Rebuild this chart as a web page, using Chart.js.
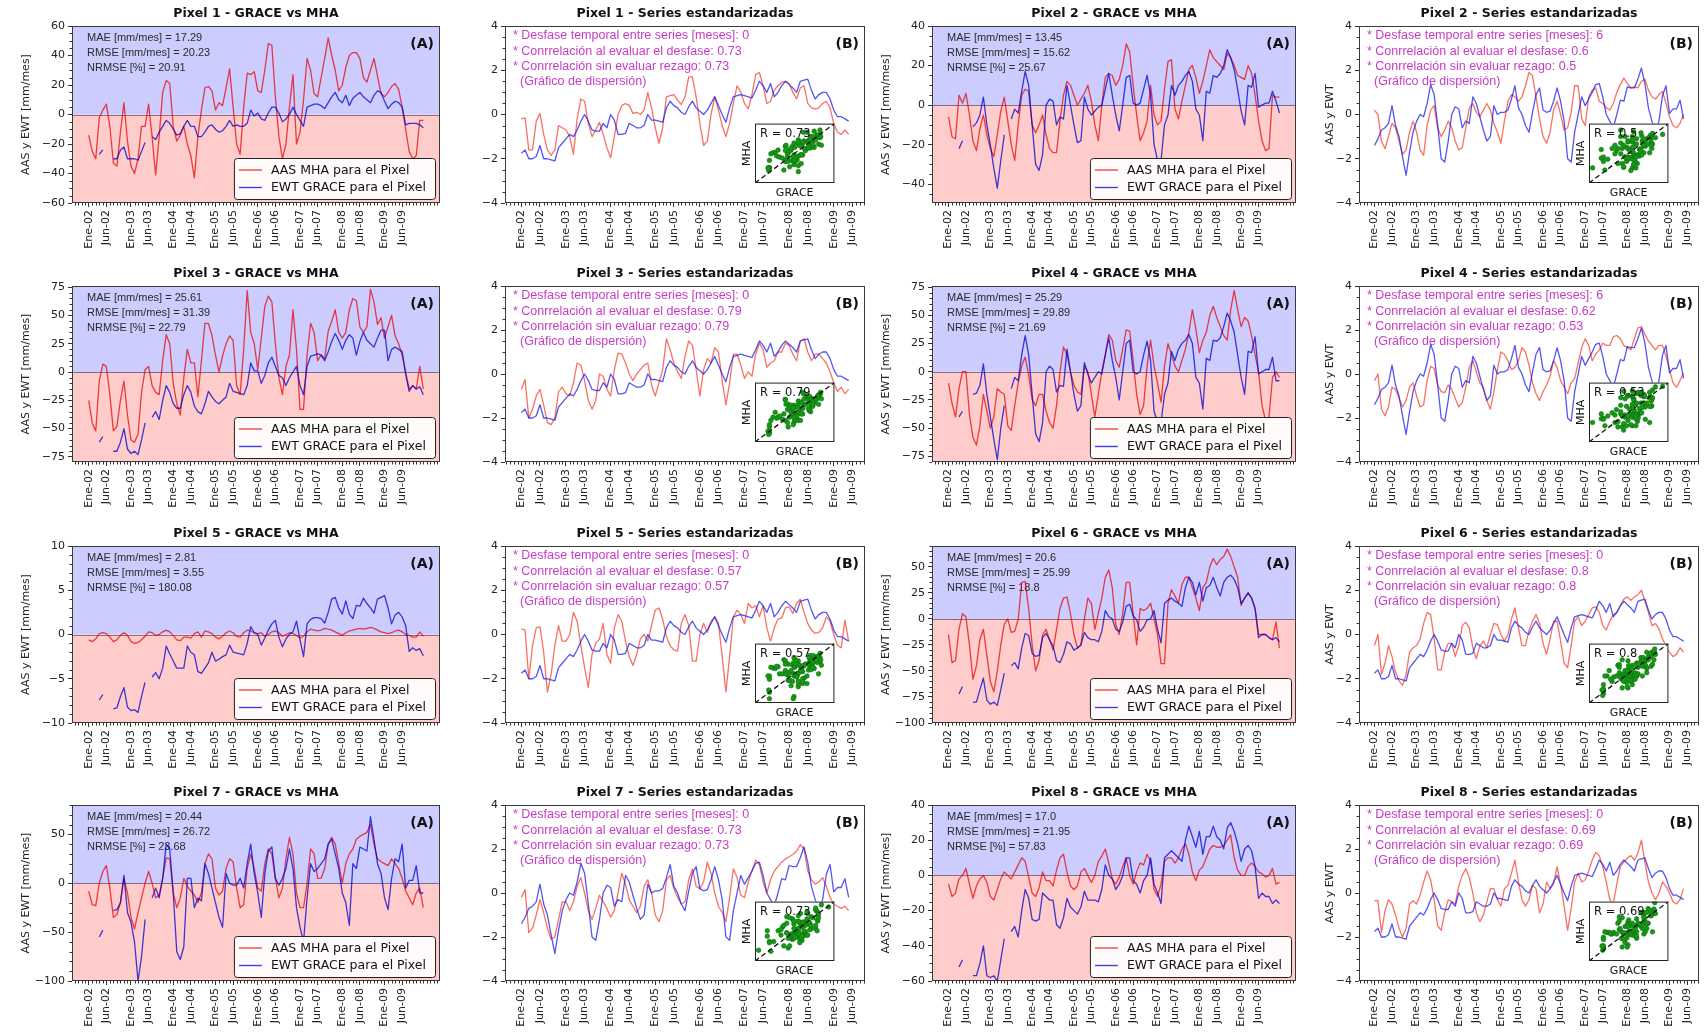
<!DOCTYPE html>
<html>
<head>
<meta charset="utf-8">
<script src="https://cdn.jsdelivr.net/npm/chart.js@4.4.1/dist/chart.umd.min.js"></script>
<style>
  html, body { margin: 0; padding: 0; background: #ffffff; }
  #fig { position: relative; width: 1705px; height: 1034px; overflow: hidden; background: #ffffff; }
  #fig canvas { position: absolute; }
</style>
</head>
<body>
<div id="fig"></div>
<script>
// ---------- time axis (month index 0 = Ene-02) ----------
const TICK_MONTHS = [0, 5, 12, 17, 24, 29, 36, 41, 48, 53, 60, 65, 72, 77, 84, 89];
const TICK_LABELS = ['Ene-02','Jun-02','Ene-03','Jun-03','Ene-04','Jun-04','Ene-05','Jun-05',
                     'Ene-06','Jun-06','Ene-07','Jun-07','Ene-08','Jun-08','Ene-09','Jun-09'];

// ---------- (A) monthly anomalies [mm/mes] ----------
const P1_AAS = [-14,-25,-30,-2,3,7,-8,-33,-35,-12, 8,-18,-35,-40,-30,-8,-8,7,-15,-41, -15,15,23,21,-8,-18,-14,-8,-20,-28,
  -43,-15,3,18,19,16,3,8,6,18, 31,5,-20,-27,5,28,27,29,16,15, 30,48,47,12,-15,-30,-20,5,27,-20, -12,10,38,30,14,12,25,38,52,40,
  30,16,20,32,40,42,42,38,25,22, 30,38,26,14,12,15,19,21,17,5, -10,-25,-30,-28,-4,-4];
const P1_EWT = [null,null,null,-27,-24,null,null,-30,-30,-24, -22,-30,-30,-30,-31,-25,-19,null,-15,-17, -12,-8,-4,-6,-10,-14,-13,-8,-4,-8,
  -8,-15,-15,-12,-8,-7,-10,-12,-11,-8, -4,-8,-7,-8,-8,-6,3,-1,1,-3, -4,1,5,5,1,-5,-3,0,5,0, -4,-8,5,6,7,7,6,4,8,12,
  15,10,8,13,6,11,13,15,12,10, 8,13,16,15,9,4,7,9,8,5, -7,-6,-6,-6,-7,-9];

const P2_AAS = [-6,-16,-17,5,1,6,-5,-18,-23,-12, -5,-15,-22,-26,-15,-3,4,-8,-20,-28, -10,5,8,7,-10,-14,-10,-5,-15,-22,
  -24,-24,-8,5,12,10,5,0,3,6, 10,2,-10,-18,0,14,16,15,10,13, 20,31,27,10,-5,-18,-14,-8,10,-5, -10,-8,8,22,23,-2,-7,2,10,18,
  20,14,6,12,20,28,24,22,20,18, 26,24,20,15,14,13,20,16,5,-8, -18,-23,-22,5,4,4];
const P2_EWT = [null,null,null,-22,-18,null,null,-11,-9,-5, 4,-10,-20,-32,-42,-28,-15,null,-7,-2, -4,7,17,10,-10,-30,-33,-25,0,3,
  2,-10,-6,-7,10,0,-10,-19,-18,4, -2,-5,-3,-1,0,8,16,5,-5,-13, 0,14,15,1,0,1,8,15,5,-20, -28,-28,-10,-5,10,5,10,12,15,17,
  12,-2,-5,-18,7,6,15,14,16,20, 28,24,18,8,-3,-10,10,9,16,-1, 0,1,1,7,2,-4];

const P3_AAS = [-25,-45,-52,-8,7,5,-20,-52,-48,-25, -8,-38,-60,-62,-55,-18,2,5,-12,-18, -20,10,33,25,-10,-28,-38,-5,20,8,
  8,-22,10,43,43,32,15,0,14,25, 32,28,-12,-20,20,72,35,25,2,30, 58,67,62,25,-5,-20,5,15,55,20, -33,-33,15,43,35,10,15,12,36,45,
  55,35,30,35,55,65,63,40,35,40, 73,62,42,48,30,40,50,32,25,15, 0,-15,-12,-15,5,-15];
const P3_EWT = [null,null,null,-62,-57,null,null,-70,-70,-62, -50,-68,-72,-70,-73,-60,-45,null,-40,-35, -42,-25,-12,-18,-28,-32,-32,-20,-12,-18,
  -30,-35,-37,-28,-17,-22,-26,-28,-25,-22, -10,-17,-18,-19,-20,-12,8,1,1,-10, -3,8,13,5,-3,-5,-12,-5,0,5, -12,-20,5,14,15,16,15,10,18,27,
  34,28,20,28,33,30,15,27,35,28, 25,22,30,37,37,10,20,22,20,18, -2,-17,-12,-15,-13,-20];

const P4_AAS = [-10,-28,-40,-15,0,0,-38,-58,-65,-48, -20,-35,-50,-40,-15,-18,-20,-48,-52,-30, -10,5,13,-3,-25,-30,-20,-20,-35,-45,
  -50,-30,0,22,15,0,-12,-18,-20,5, 0,-20,-40,-20,0,15,33,28,10,4, 20,37,36,10,-20,-38,-30,5,28,5, -10,-27,5,25,15,5,0,10,20,35,
  55,38,17,28,35,50,58,48,40,32, 28,55,72,55,40,48,45,32,15,0, -30,-43,-40,-5,0,-5];
const P4_EWT = [null,null,null,-40,-35,null,null,-20,-19,-12, 7,-20,-40,-60,-78,-50,-30,null,-15,-5, -8,15,32,15,-20,-55,-62,-45,0,5,
  2,-18,-12,-13,20,0,-20,-35,-30,8, -2,-10,-5,0,-2,15,30,10,-5,-25, 0,25,28,0,-2,0,15,27,10,-35, -45,-45,-20,-10,18,10,20,25,28,33,
  25,-5,-10,-33,12,10,28,27,30,40, 52,45,35,15,-5,-20,18,17,31,-2, 0,2,2,13,-8,-8];

const P5_AAS = [-0.6,-0.8,-0.5,0.1,0.2,0.1,-0.3,-0.8,-0.6,-0.1, 0.2,-0.1,-0.8,-1.0,-0.9,-0.6,-0.2,0.3,0.2,-0.1,
  0.0,0.3,0.5,0.3,-0.1,-0.6,-0.7,-0.3,-0.3,-0.4, 0.1,0.3,-0.3,0.4,0.3,0.1,-0.3,-0.5,-0.2,0.2, 0.4,0.2,-0.2,-0.3,0.2,0.5,0.4,0.2,0.1,0.2,
  -0.2,0.0,0.3,0.4,0.2,-0.2,0.0,0.2,0.1,-0.1, -0.4,-0.2,0.3,0.6,0.5,0.4,0.5,0.7,0.6,0.5, 0.3,0.1,-0.1,0.2,0.4,0.5,0.6,0.7,0.6,0.7,
  0.8,0.7,0.5,0.3,0.2,0.1,0.2,0.4,0.5,0.3, 0.0,-0.1,-0.3,-0.3,0.3,-0.2];
const P5_EWT = [null,null,null,-7.4,-6.8,null,null,-8.4,-8.3,-7.0, -6.0,-8.2,-8.6,-8.5,-8.8,-7.0,-5.4,null,-4.8,-4.3,
  -5.0,-3.8,-1.3,-2.2,-3.0,-3.8,-3.8,-3.8,-1.3,-2.0, -2.3,-4.2,-4.4,-3.8,-3.2,-2.0,-3.0,-2.8,-2.5,-2.3, -1.2,-2.0,-2.1,-2.2,-2.3,-1.0,0.9,0.2,0.0,-1.2,
  -0.4,0.5,1.2,1.6,-0.3,-1.4,-0.5,0.0,0.3,1.5, -0.6,-2.5,1.2,1.7,1.9,1.9,1.8,1.3,2.5,4.0, 4.2,3.0,2.3,3.8,2.3,1.8,3.3,3.2,4.1,3.5,
  3.0,2.4,4.0,4.2,4.4,3.0,1.2,2.2,2.5,2.0, 1.0,-1.9,-1.5,-1.8,-1.6,-2.4];

const P6_AAS = [-15,-42,-40,-10,5,2,-25,-58,-45,-20, -10,-35,-60,-70,-50,-25,-5,0,-13,-12, 0,35,36,10,-25,-50,-40,-15,-10,-20,
  -30,-10,10,20,21,5,-15,-28,-25,0, 20,15,-10,5,20,40,47,30,-5,-15, 5,35,35,5,-25,10,8,10,15,0, -15,-43,-43,15,28,22,15,33,40,40,
  30,20,8,30,35,50,58,52,57,60, 67,60,50,40,13,20,25,20,10,-15, -15,-15,-18,-20,-3,-28];
const P6_EWT = [null,null,null,-72,-65,null,null,-80,-80,-68, -57,-78,-82,-80,-83,-68,-52,null,-45,-42, -48,-28,-14,-16,-33,-36,-35,-18,-14,-20,
  -26,-40,-42,-34,-22,-24,-30,-28,-25,-13, -18,-20,-20,-22,-12,8,2,0,-10,-12, -3,12,14,3,-1,-12,-8,-1,0,8, -10,-23,15,18,20,17,15,12,30,40,
  35,23,35,17,30,32,40,30,22,35, 40,42,38,30,15,20,25,20,10,-18, -15,-15,-18,-20,-18,-22];

const P7_AAS = [-8,-22,-23,0,12,18,-5,-35,-32,-20, 5,-10,-35,-47,-30,-15,0,12,0,-15, -12,5,26,25,-10,-25,-15,5,-3,-8,
  -12,-20,-10,20,30,25,-5,-12,-8,15, 25,22,-5,-25,-22,15,30,15,-5,-8, 20,35,30,5,-15,-5,25,47,30,-10, -25,-25,0,35,30,5,5,15,40,47,
  40,20,0,20,30,35,45,48,50,52, 60,40,25,22,20,18,25,20,15,5, -8,-15,-22,-10,-5,-25];
const P7_EWT = [null,null,null,-55,-48,null,null,-28,-27,-20, 8,-30,-40,-60,-100,-75,-37,null,-15,-5, -15,5,40,35,-10,-70,-78,-65,5,5,
  -25,-15,-18,20,10,-5,-20,-35,-45,10, 0,-2,-2,5,-5,20,40,10,-10,-35, 10,33,37,5,-2,5,15,35,15,-25, -45,-60,-15,20,12,15,20,25,40,45,
  30,15,-10,-20,-43,20,15,37,35,33, 68,45,20,10,-15,-27,5,25,22,40, -5,3,3,18,-10,-10];

const P8_AAS = [-5,-12,-10,-2,0,4,-5,-13,-6,-2, 0,-4,-12,-14,-8,-2,2,0,-2,2, 6,10,8,-1,-10,-12,-7,2,-3,-3,
  -6,3,10,12,2,-6,-8,-6,2,4, 0,-4,0,8,11,15,7,-2,-5,-1, 5,10,0,-5,2,7,6,12,8,-8, -12,-5,8,10,10,7,10,15,18,12,
  2,-3,3,5,10,15,17,16,16,17, 20,23,10,3,0,0,5,7,5,2, 1,-1,0,4,-5,-4];
const P8_EWT = [null,null,null,-52,-48,null,null,-57,-57,-50, -40,-57,-58,-57,-60,-48,-36,null,-32,-29, -35,-20,-8,-13,-25,-26,-25,-10,-12,-14,
  -14,-28,-30,-24,-13,-18,-20,-22,-18,-9, -14,-14,-14,-15,-8,6,0,-2,-8,-5, 0,10,10,-3,-5,-10,-3,0,10,-5, -10,-16,10,12,14,12,10,8,20,28,
  22,16,25,12,22,22,28,22,20,15, 27,30,25,18,8,15,17,14,5,-13, -10,-12,-12,-16,-14,-16];

// ---------- (B) standardized series ----------
const GRACE_STD_1 = [-1.75,-1.6,-2.0,-2.0,-1.9,-1.4,-2.0,-2.0,-2.05,-2.1, -1.5,-1.3,-1.1,-0.9,-1.0,-0.7,-0.3,0.0,-0.3,-0.7,
  -0.75,-0.75,-0.4,-0.6,0.0,-0.25,-0.9,-0.9,-0.85,-0.4, -0.5,-0.6,-0.6,-0.5,0.0,-0.25,-0.25,-0.3,-0.35,0.3,
  0.6,0.4,0.3,0.1,0.0,0.35,0.6,0.3,0.15,0.0, 0.2,0.5,0.8,0.4,0.0,-0.35,0.3,0.8,0.85,0.9,
  0.85,0.8,0.75,1.1,1.5,1.3,1.0,1.4,0.8,1.0, 1.3,1.5,1.35,1.2,1.0,1.5,1.55,1.6,1.1,0.7, 0.9,1.0,1.0,0.7,0.2,-0.1,-0.1,-0.2,-0.3];
const GRACE_STD_2 = [-1.4,-1.1,-0.7,-0.6,-0.4,0.4,-0.5,-1.0,-1.9,-2.75, -1.7,-0.8,-0.3,0.0,-0.1,0.5,1.35,0.9,-0.5,-2.0,
  -2.15,-1.2,0.0,0.35,0.25,-0.6,-0.3,-0.4,0.8,0.5, -0.1,-0.7,-1.2,-1.0,0.4,0.0,0.1,0.1,0.2,0.7,
  1.3,0.3,0.0,-0.5,-0.8,0.1,0.9,1.2,0.2,0.1, 0.15,0.6,1.2,0.6,-0.3,-2.0,-2.15,-0.8,0.0,0.8,
  0.4,0.7,1.0,1.35,1.4,0.8,0.0,-0.3,-0.6,0.0, 0.65,0.6,1.25,1.2,1.2,1.6,2.1,1.4,0.3,-0.3, -0.8,-0.3,0.85,1.3,0.05,0.25,0.25,0.65,-0.2];

const P1_AAS_STD = [-0.2,-0.15,-1.6,-1.6,-0.3,0.05,-0.9,-1.6,-1.85,-1.6, -0.5,-0.6,-0.7,-1.0,-1.8,-0.2,0.7,0.6,-0.4,-1.0,
  -0.7,-0.35,-0.9,-1.5,-1.95,-1.0,0.0,0.4,0.5,0.4, 0.05,0.1,0.0,0.2,1.0,0.3,-0.6,-1.3,-0.6,0.8,
  0.85,0.9,0.65,0.45,0.8,1.7,1.7,0.8,-0.4,-1.4, -1.2,0.0,0.8,0.2,-0.5,-1.0,-0.4,0.5,1.3,1.0,
  0.5,0.25,0.9,1.8,1.9,1.3,0.5,0.6,1.1,1.3, 1.45,1.5,1.4,1.0,0.7,1.2,1.3,0.5,0.3,0.25, 0.3,0.5,0.6,0.3,-0.4,-0.8,-0.9,-0.7,-0.9];
const P2_AAS_STD = [0.2,0.0,-1.2,-1.55,-1.0,-0.4,-0.6,-1.2,-1.8,-1.6, -0.8,-0.3,-0.8,-1.6,-1.85,-0.5,0.2,0.4,-0.6,-1.0,
  -0.7,-0.3,-0.6,-1.2,-1.6,-1.5,-0.6,0.3,0.5,0.1, -0.1,0.2,0.5,0.2,-0.4,-0.8,-1.3,-0.3,0.6,0.9,
  0.8,0.6,0.8,1.3,1.9,1.75,0.8,-0.2,-1.0,-1.3, -0.8,0.2,0.6,0.0,-0.7,-0.6,0.1,1.3,1.3,-0.2,
  -0.5,0.8,1.1,1.2,0.6,0.5,0.3,0.2,0.5,1.0, 1.35,1.65,1.4,1.2,1.25,1.2,1.5,1.6,1.1,0.8, 0.7,0.9,1.05,0.5,-0.1,-0.5,-0.6,-0.4,0.0];
const P3_AAS_STD = [-0.7,-0.25,-2.0,-1.6,-1.0,-0.7,-1.4,-2.2,-2.3,-2.0, -0.8,-0.6,-0.9,-1.0,-0.4,0.5,0.4,-0.3,-1.2,-1.6,
  -1.2,0.0,-0.1,-0.7,-1.0,0.2,0.95,0.9,0.5,0.0, -0.3,0.0,0.2,0.4,0.5,-0.5,-1.0,-0.4,0.2,1.6,
  1.1,0.5,0.1,-0.2,0.8,1.5,1.3,0.2,-1.0,0.2, 0.7,0.5,1.2,1.0,-0.3,-1.4,-0.4,0.9,0.9,0.4,
  -0.2,0.1,-0.1,0.9,1.4,1.1,0.3,0.5,0.6,1.0, 1.0,1.4,1.3,0.9,0.6,1.5,1.6,1.0,0.6,0.9, 0.9,0.7,0.5,0.1,-0.4,-0.8,-0.6,-0.9,-0.7];
const P4_AAS_STD = [-0.3,0.0,-1.6,-1.9,-1.5,-0.6,-0.7,-1.1,-1.5,-1.2, -0.6,-0.4,-1.0,-1.5,-1.4,-0.3,0.35,0.25,-0.5,-0.8,
  -0.85,-0.5,-0.7,-1.1,-1.5,-1.3,-0.6,0.3,0.6,0.1, -0.4,-0.6,-1.2,-1.6,-0.8,0.2,1.0,0.9,0.6,0.2,
  0.3,0.6,1.2,1.0,0.4,-0.4,-0.9,-1.2,-0.8,-0.5, -0.1,0.6,0.3,-0.3,-0.6,-0.9,-0.4,-0.2,0.5,1.2,
  1.6,1.3,0.6,0.9,1.1,1.4,1.3,1.3,1.7,1.75, 1.6,1.3,1.2,1.1,1.6,2.1,2.15,1.8,1.5,1.3, 1.1,1.3,1.3,0.8,0.2,-0.4,-0.6,-0.3,0.05];
const P5_AAS_STD = [0.25,0.2,-2.0,-0.5,0.3,0.35,-0.8,-2.6,-1.8,-0.5, 0.4,-0.3,-0.3,0.0,1.0,0.6,-0.5,-1.5,-2.4,-0.9,
  -0.4,-0.2,0.5,-0.9,-1.3,0.3,0.9,0.6,-0.3,-1.0, -1.4,-0.9,-0.2,0.0,-0.3,0.4,1.1,1.2,0.7,-0.1,
  -0.5,-0.7,-0.75,0.5,0.9,0.4,-1.2,-1.2,0.0,0.5, 0.1,0.6,0.8,0.5,-1.0,-2.6,-1.0,0.8,1.1,0.9,
  0.5,1.4,1.2,1.3,0.8,1.3,0.3,-0.3,0.3,0.7, 0.75,1.2,1.25,0.95,1.4,1.6,1.0,0.5,0.2,0.05, 0.1,0.3,0.8,0.6,0.0,-0.5,-0.6,0.65,-0.3];
const P6_AAS_STD = [-0.5,0.0,-1.8,-1.3,-0.5,-1.0,-1.7,-2.1,-2.3,-1.8, -0.8,-0.6,-0.5,-0.2,0.5,1.0,0.9,-0.2,-1.6,-1.6,
  -0.8,-0.4,-0.4,-1.0,-0.5,0.4,0.55,0.3,-0.6,-1.1, -0.5,-0.3,-0.6,0.0,0.5,0.45,0.0,-0.3,0.0,0.7,
  1.2,0.3,-0.5,-0.5,0.2,0.6,0.9,0.5,-0.4,-0.9, -0.2,0.6,0.6,-0.3,-1.3,-1.5,-0.5,0.6,0.8,0.4,
  0.6,0.9,1.2,1.25,1.0,0.4,0.2,0.6,0.9,1.0, 1.3,1.6,1.7,1.55,1.7,1.8,2.0,1.5,1.0,0.4, 0.5,0.25,-0.2,-0.5,-0.8,-1.0,-0.9,-0.6,-0.8];
const P7_AAS_STD = [-0.2,0.15,-1.8,-1.6,-1.0,-0.3,-0.9,-1.6,-2.1,-2.0, -1.2,-0.4,-0.4,-0.8,-0.4,0.3,0.7,0.0,-0.8,-1.2,
  -0.7,-0.1,-0.4,-0.7,-1.1,-0.8,0.0,0.9,0.4,-0.3, -0.6,-0.9,-0.6,0.3,0.6,0.0,-1.0,-1.3,-0.8,0.6,
  0.8,0.2,-0.2,-0.5,-0.4,0.6,1.1,0.3,0.2,0.5, 1.4,0.9,0.0,-0.6,-0.9,-1.3,-0.2,1.1,0.7,-0.1,
  -0.2,0.5,1.0,1.5,1.3,0.5,0.0,0.6,1.0,1.2, 1.4,1.55,1.65,1.75,1.9,2.2,2.0,1.0,0.6,0.4, 0.5,0.7,0.3,-0.2,-0.5,-0.6,-0.7,-0.6,-0.8];
const P8_AAS_STD = [-0.35,-0.35,-1.8,-0.8,-0.3,-0.5,-1.0,-1.6,-2.0,-1.6, -0.5,-0.35,-0.5,-0.1,0.5,1.0,0.6,-0.3,-1.5,-1.7,
  -0.9,-0.3,-0.4,-0.5,0.3,0.8,1.1,0.7,0.0,-0.9, -1.3,-1.0,-0.4,0.2,0.2,-0.3,-0.6,0.2,0.35,0.9,
  1.5,0.5,-0.3,-0.6,-0.3,0.35,0.2,-0.9,-0.5,0.5, 0.2,0.4,1.2,0.4,-0.6,-1.7,-0.7,0.5,0.9,0.5,
  0.6,1.0,1.5,1.85,1.7,1.2,0.5,-0.3,-0.5,0.4, 1.2,1.4,1.6,1.7,1.5,1.8,2.4,1.4,0.5,0.0, -0.3,0.0,0.5,0.3,0.0,-0.4,-0.5,-0.3,0.2];

// ---------- statistics written on the panels ----------
const MAE   = ['17.29','13.45','25.61','25.29','2.81','20.6','20.44','17.0'];
const RMSE  = ['20.23','15.62','31.39','29.89','3.55','25.99','26.72','21.95'];
const NRMSE = ['20.91','25.67','22.79','21.69','180.08','18.8','23.68','57.83'];
const LAG        = [0, 6, 0, 6, 0, 0, 0, 0];
const CORR_LAG   = ['0.73','0.6','0.79','0.62','0.57','0.8','0.73','0.69'];
const CORR_NOLAG = ['0.73','0.5','0.79','0.53','0.57','0.8','0.73','0.69'];

const AAS = [P1_AAS, P2_AAS, P3_AAS, P4_AAS, P5_AAS, P6_AAS, P7_AAS, P8_AAS];
const EWT = [P1_EWT, P2_EWT, P3_EWT, P4_EWT, P5_EWT, P6_EWT, P7_EWT, P8_EWT];
const AAS_STD = [P1_AAS_STD, P2_AAS_STD, P3_AAS_STD, P4_AAS_STD, P5_AAS_STD, P6_AAS_STD, P7_AAS_STD, P8_AAS_STD];
const EWT_STD = [GRACE_STD_1, GRACE_STD_2, GRACE_STD_1, GRACE_STD_2, GRACE_STD_1, GRACE_STD_1, GRACE_STD_2, GRACE_STD_1];

// ---------- axis set-up for each panel ----------
const A_AXES = [
  { min: -60,   max: 60, major: [-60,-40,-20,0,20,40,60], minor: 5 },
  { min: -49.5, max: 40, major: [-40,-20,0,20,40], minor: 5 },
  { min: -79.5, max: 76, major: [-75,-50,-25,0,25,50,75], minor: 5 },
  { min: -80,   max: 76, major: [-75,-50,-25,0,25,50,75], minor: 5 },
  { min: -10,   max: 10, major: [-10,-5,0,5,10], minor: 1 },
  { min: -100,  max: 70, major: [-100,-75,-50,-25,0,25,50], minor: 5 },
  { min: -100,  max: 80, major: [-100,-50,0,50], minor: 10 },
  { min: -60,   max: 40, major: [-60,-40,-20,0,20,40], minor: 5 }
];
const B_AXIS = { min: -4, max: 4, major: [-4,-2,0,2,4], minor: 0.5 };
const A_XRANGE = [-4.75, 99.75];
const B_XRANGE = [-4.4, 92.4];
const INSET_RANGE = [-3.0, 2.5];

// ---------- page layout ----------
const COLS = [[72, 440], [505, 865], [932, 1296], [1359, 1699]];
const ROWS = [[26, 203], [286, 462], [546, 723], [805, 981]];
const ML = 70, MT = 26, MR = 6, MB = 52;

const DEJAVU = '"DejaVu Sans", sans-serif';
const LIBER = '"Liberation Sans", Arial, sans-serif';
const A_RED = 'rgba(228,0,0,0.72)';
const A_BLUE = 'rgba(0,0,205,0.75)';
const B_RED = 'rgba(245,40,20,0.66)';
const B_BLUE = 'rgba(20,20,235,0.72)';
const MAGENTA = '#c63cc6';

const fig = document.getElementById('fig');
function addCanvas(x, y, w, h) {
  const c = document.createElement('canvas');
  c.width = w; c.height = h;
  c.style.left = x + 'px'; c.style.top = y + 'px';
  c.style.width = w + 'px'; c.style.height = h + 'px';
  fig.appendChild(c);
  return c;
}
const toPoints = arr => arr.map((v, i) => ({ x: i, y: v }));
const uminus = v => String(v).replace('-', '\u2212');

function scalesFor(xr, ax) {
  return {
    x: {
      type: 'linear', min: xr[0], max: xr[1],
      afterBuildTicks: s => { s.ticks = TICK_MONTHS.map(v => ({ value: v })); },
      afterFit: s => { s.height = MB; },
      ticks: {
        autoSkip: false, minRotation: 90, maxRotation: 90, padding: 3, color: '#222',
        font: { family: DEJAVU, size: 11 },
        callback: v => TICK_LABELS[TICK_MONTHS.indexOf(v)]
      },
      grid: { drawOnChartArea: false, drawTicks: true, tickLength: 4, color: '#333', lineWidth: 1 },
      border: { display: false }
    },
    y: {
      type: 'linear', min: ax.min, max: ax.max,
      afterBuildTicks: s => { s.ticks = ax.major.map(v => ({ value: v })); },
      afterFit: s => { s.width = ML; },
      ticks: { padding: 3, color: '#222', font: { family: DEJAVU, size: 11 }, callback: v => uminus(v) },
      grid: { drawOnChartArea: false, drawTicks: true, tickLength: 4, color: '#333', lineWidth: 1 },
      border: { display: false }
    }
  };
}

// frame, minor ticks, title and axis label shared by all the main panels
function drawFrame(chart, ax, title, ylabel, ylabelOffset) {
  const { ctx, chartArea: { left, right, top, bottom } } = chart;
  const xs = chart.scales.x, ys = chart.scales.y;
  ctx.save();
  ctx.strokeStyle = '#333'; ctx.lineWidth = 1;
  ctx.beginPath();
  for (let m = Math.ceil(xs.min); m <= xs.max; m++) {
    if (TICK_MONTHS.includes(m)) continue;
    const px = Math.round(xs.getPixelForValue(m)) + 0.5;
    ctx.moveTo(px, bottom); ctx.lineTo(px, bottom + 2.5);
  }
  const start = Math.ceil(ax.min / ax.minor) * ax.minor;
  for (let v = start; v <= ax.max + 1e-9; v += ax.minor) {
    if (ax.major.some(M => Math.abs(M - v) < 1e-6)) continue;
    const py = Math.round(ys.getPixelForValue(v)) + 0.5;
    ctx.moveTo(left, py); ctx.lineTo(left - 2.5, py);
  }
  ctx.stroke();
  ctx.strokeStyle = '#3a3a3a';
  ctx.strokeRect(left + 0.5, top + 0.5, right - left - 1, bottom - top - 1);
  ctx.fillStyle = '#111';
  ctx.font = 'bold 12.5px ' + DEJAVU;
  ctx.textAlign = 'center'; ctx.textBaseline = 'alphabetic';
  ctx.fillText(title, (left + right) / 2, top - 9);
  if (ylabel) {
    ctx.save();
    ctx.translate(left - ylabelOffset, (top + bottom) / 2);
    ctx.rotate(-Math.PI / 2);
    ctx.font = '11px ' + DEJAVU;
    ctx.fillStyle = '#222';
    ctx.textBaseline = 'middle';
    ctx.fillText(ylabel, 0, 0);
    ctx.restore();
  }
  ctx.restore();
}

function panelA(p) {
  const row = Math.floor(p / 2), col = (p % 2) * 2;
  const [l, r] = COLS[col], [t, b] = ROWS[row];
  const W = r - l + ML + MR, H = b - t + MT + MB;
  const ax = A_AXES[p];
  const deco = {
    id: 'decoA' + p,
    beforeDatasetsDraw(chart) {
      const { ctx, chartArea: { left, right, top, bottom } } = chart;
      const y0 = chart.scales.y.getPixelForValue(0);
      ctx.save();
      ctx.fillStyle = 'rgb(204,204,255)';
      ctx.fillRect(left, top, right - left, y0 - top);
      ctx.fillStyle = 'rgb(255,204,204)';
      ctx.fillRect(left, y0, right - left, bottom - y0);
      ctx.strokeStyle = 'rgba(110,90,120,0.85)'; ctx.lineWidth = 1;
      ctx.beginPath(); ctx.moveTo(left, Math.round(y0) + 0.5); ctx.lineTo(right, Math.round(y0) + 0.5); ctx.stroke();
      ctx.fillStyle = '#2a2a2a';
      ctx.font = '11px ' + LIBER;
      ctx.textAlign = 'left'; ctx.textBaseline = 'middle';
      ctx.fillText('MAE [mm/mes] = ' + MAE[p], left + 15, top + 12);
      ctx.fillText('RMSE [mm/mes] = ' + RMSE[p], left + 15, top + 27);
      ctx.fillText('NRMSE [%] = ' + NRMSE[p], left + 15, top + 42);
      ctx.restore();
    },
    afterDatasetsDraw(chart) {
      const { ctx, chartArea: { left, right, top, bottom } } = chart;
      ctx.save();
      // legend
      ctx.font = '12.5px ' + DEJAVU;
      const items = [['AAS MHA para el Pixel', A_RED], ['EWT GRACE para el Pixel', A_BLUE]];
      const tw = Math.max(...items.map(it => ctx.measureText(it[0]).width));
      const bw = 37 + tw + 9, bh = 41;
      const bx = right - 5 - bw, by = bottom - 4 - bh;
      ctx.beginPath();
      ctx.roundRect(bx + 0.5, by + 0.5, bw, bh, 3);
      ctx.fillStyle = 'rgba(255,255,255,0.92)'; ctx.fill();
      ctx.strokeStyle = '#222'; ctx.lineWidth = 1; ctx.stroke();
      items.forEach((it, k) => {
        const cy = by + 12 + k * 17.5;
        ctx.strokeStyle = it[1]; ctx.lineWidth = 1.4;
        ctx.beginPath(); ctx.moveTo(bx + 5, cy); ctx.lineTo(bx + 28, cy); ctx.stroke();
        ctx.fillStyle = '#111'; ctx.textAlign = 'left'; ctx.textBaseline = 'middle';
        ctx.fillText(it[0], bx + 37, cy + 0.5);
      });
      ctx.font = 'bold 14px ' + DEJAVU;
      ctx.textAlign = 'right'; ctx.textBaseline = 'middle';
      ctx.fillStyle = '#111';
      ctx.fillText('(A)', right - 6, top + 18);
      ctx.restore();
      drawFrame(chart, ax, 'Pixel ' + (p + 1) + ' - GRACE vs MHA', 'AAS y EWT [mm/mes]', 46);
    }
  };
  new Chart(addCanvas(l - ML, t - MT, W, H), {
    type: 'line',
    data: { datasets: [
      { data: toPoints(EWT[p]), borderColor: A_BLUE, borderWidth: 1.3, pointRadius: 0, spanGaps: false, borderJoinStyle: 'round' },
      { data: toPoints(AAS[p]), borderColor: A_RED, borderWidth: 1.3, pointRadius: 0, spanGaps: false, borderJoinStyle: 'round' }
    ]},
    options: {
      responsive: false, animation: false, devicePixelRatio: 1,
      layout: { padding: { left: 0, top: MT, right: MR, bottom: 0 } },
      plugins: { legend: { display: false }, tooltip: { enabled: false }, title: { display: false } },
      scales: scalesFor(A_XRANGE, ax)
    },
    plugins: [deco]
  });
}

function panelB(p) {
  const row = Math.floor(p / 2), col = (p % 2) * 2 + 1;
  const [l, r] = COLS[col], [t, b] = ROWS[row];
  const W = r - l + ML + MR, H = b - t + MT + MB;
  const deco = {
    id: 'decoB' + p,
    beforeDatasetsDraw(chart) {
      const { ctx, chartArea: { left, top } } = chart;
      ctx.save();
      ctx.fillStyle = MAGENTA;
      ctx.font = '12.5px ' + LIBER;
      ctx.textAlign = 'left'; ctx.textBaseline = 'middle';
      ctx.fillText('* Desfase temporal entre series [meses]: ' + LAG[p], left + 8, top + 10);
      ctx.fillText('* Conrrelación al evaluar el desfase: ' + CORR_LAG[p], left + 8, top + 25.5);
      ctx.fillText('* Conrrelación sin evaluar rezago: ' + CORR_NOLAG[p], left + 8, top + 41);
      ctx.fillText('(Gráfico de dispersión)', left + 15, top + 56);
      ctx.restore();
    },
    afterDatasetsDraw(chart) {
      const { ctx, chartArea: { right, top } } = chart;
      ctx.save();
      ctx.font = 'bold 14px ' + DEJAVU;
      ctx.textAlign = 'right'; ctx.textBaseline = 'middle';
      ctx.fillStyle = '#111';
      ctx.fillText('(B)', right - 6, top + 18);
      ctx.restore();
      drawFrame(chart, B_AXIS, 'Pixel ' + (p + 1) + ' - Series estandarizadas', col === 3 ? 'AAS y EWT' : null, 29);
    }
  };
  new Chart(addCanvas(l - ML, t - MT, W, H), {
    type: 'line',
    data: { datasets: [
      { data: toPoints(EWT_STD[p]), borderColor: B_BLUE, borderWidth: 1.3, pointRadius: 0, borderJoinStyle: 'round' },
      { data: toPoints(AAS_STD[p]), borderColor: B_RED, borderWidth: 1.3, pointRadius: 0, borderJoinStyle: 'round' }
    ]},
    options: {
      responsive: false, animation: false, devicePixelRatio: 1,
      layout: { padding: { left: 0, top: MT, right: MR, bottom: 0 } },
      plugins: { legend: { display: false }, tooltip: { enabled: false }, title: { display: false } },
      scales: scalesFor(B_XRANGE, B_AXIS)
    },
    plugins: [deco]
  });

  // scatter inset: GRACE (x) against MHA (y)
  const BW = 84, BH = 64, LW = 16, LH = 19;
  const bx = r - 26 - BW, by = b - 20 - BH;
  const inset = {
    id: 'inset' + p,
    beforeDatasetsDraw(chart) {
      const { ctx, chartArea: { left, right, top, bottom } } = chart;
      ctx.save(); ctx.fillStyle = '#fff'; ctx.fillRect(left, top, right - left, bottom - top); ctx.restore();
    },
    afterDatasetsDraw(chart) {
      const { ctx, chartArea: { left, right, top, bottom } } = chart;
      ctx.save();
      ctx.strokeStyle = '#222'; ctx.lineWidth = 1;
      ctx.strokeRect(left + 0.5, top + 0.5, right - left - 1, bottom - top - 1);
      ctx.fillStyle = '#111';
      ctx.font = '11.5px ' + DEJAVU;
      ctx.textAlign = 'left'; ctx.textBaseline = 'middle';
      ctx.fillText('R = ' + CORR_NOLAG[p], left + 5, top + 10);
      ctx.font = '11px ' + DEJAVU;
      ctx.textAlign = 'center';
      ctx.fillText('GRACE', (left + right) / 2, bottom + 10);
      ctx.translate(left - 8, (top + bottom) / 2);
      ctx.rotate(-Math.PI / 2);
      ctx.fillText('MHA', 0, 0);
      ctx.restore();
    }
  };
  new Chart(addCanvas(bx - LW, by, BW + LW, BH + LH), {
    type: 'scatter',
    data: { datasets: [
      { type: 'line', data: [{ x: INSET_RANGE[0], y: INSET_RANGE[0] }, { x: INSET_RANGE[1], y: INSET_RANGE[1] }],
        borderColor: '#111', borderWidth: 1.3, borderDash: [5, 3], pointRadius: 0 },
      { data: EWT_STD[p].map((v, i) => ({ x: v, y: AAS_STD[p][i] })),
        pointRadius: 2.3, pointBackgroundColor: '#169a16', pointBorderColor: '#0c700c', pointBorderWidth: 0.6 }
    ]},
    options: {
      responsive: false, animation: false, devicePixelRatio: 1,
      layout: { padding: 0 },
      plugins: { legend: { display: false }, tooltip: { enabled: false } },
      scales: {
        x: { type: 'linear', min: INSET_RANGE[0], max: INSET_RANGE[1], ticks: { display: false },
             grid: { display: false }, border: { display: false }, afterFit: s => { s.height = LH; } },
        y: { type: 'linear', min: INSET_RANGE[0], max: INSET_RANGE[1], ticks: { display: false },
             grid: { display: false }, border: { display: false }, afterFit: s => { s.width = LW; } }
      }
    },
    plugins: [inset]
  });
}

for (let p = 0; p < 8; p++) { panelA(p); panelB(p); }
</script>
</body>
</html>
